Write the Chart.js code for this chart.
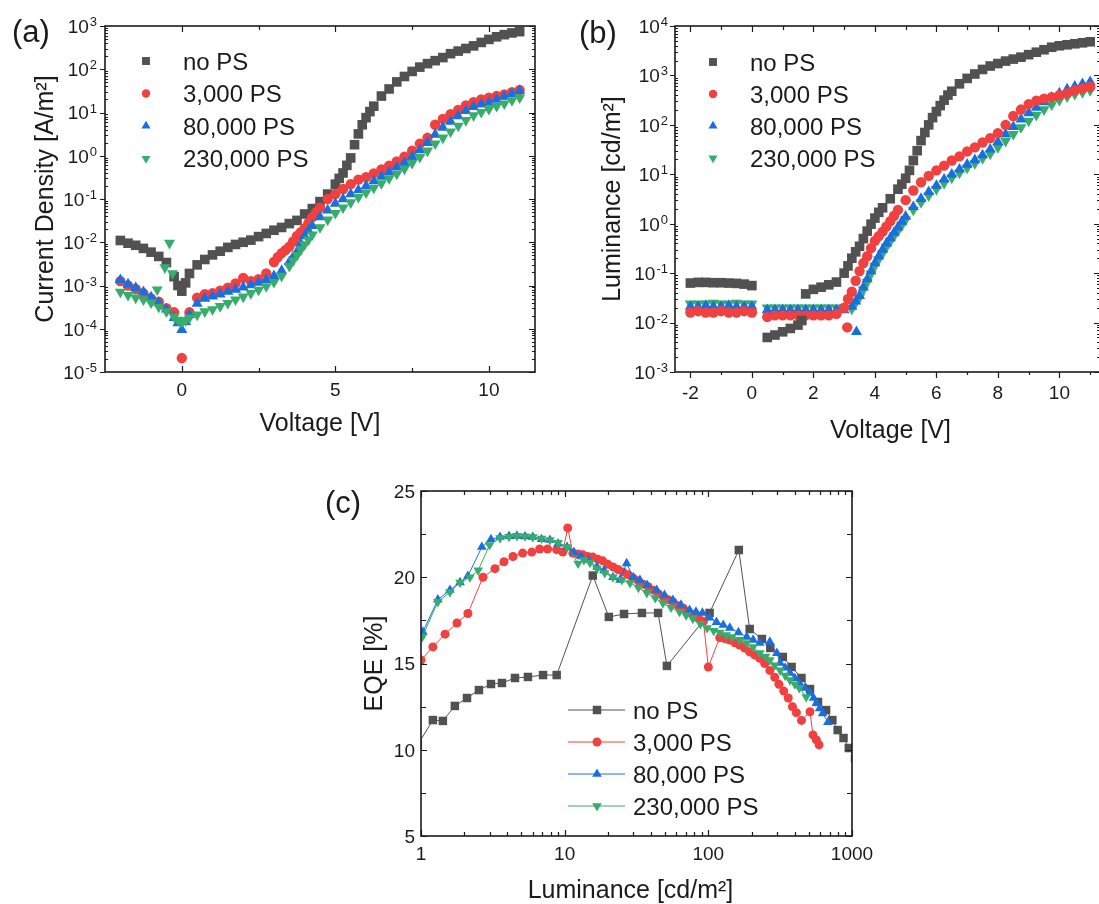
<!DOCTYPE html>
<html>
<head>
<meta charset="utf-8">
<script src="https://cdn.jsdelivr.net/npm/chart.js@4.4.1/dist/chart.umd.min.js"></script>
<style>
  html, body { margin: 0; padding: 0; background: #fff; overflow: hidden; }
  #page { position: relative; width: 1099px; height: 904px; overflow: hidden; background: #fff; }
  canvas { position: absolute; }
  #cA { left: 0; top: 0; }
  #cB { left: 560px; top: 0; }
  #cC { left: 300px; top: 440px; }
</style>
</head>
<body>
<div id="page">
  <canvas id="cB" width="541" height="460"></canvas>
  <canvas id="cA" width="560" height="450"></canvas>
  <canvas id="cC" width="600" height="464"></canvas>
</div>
<script>
// ---- data ----
const names = ['no PS', '3,000 PS', '80,000 PS', '230,000 PS'];

// voltage sweep shared by J-V and L-V
const volts = [-2, -1.75, -1.5, -1.25, -1, -0.75, -0.5, -0.25,
  0, 0.25, 0.5, 0.75, 1, 1.25, 1.5, 1.75, 2, 2.25, 2.5, 2.75,
  3, 3.25, 3.5, 3.75, 4, 4.25, 4.5, 4.75, 5, 5.25, 5.5, 5.75,
  6, 6.25, 6.5, 6.75, 7, 7.25, 7.5, 7.75, 8, 8.25, 8.5, 8.75,
  9, 9.25, 9.5, 9.75, 10, 10.25, 10.5, 10.75, 11];

// current density [A/m2]
const jNoPS = [
  1.1e-2, 9.5e-3, 8.5e-3, 7.2e-3, 5.9e-3, 4.7e-3, 3.4e-3, 1.6e-3,
  7.4e-4, 1.9e-3, 3.0e-3, 4.0e-3, 5.1e-3, 6.2e-3, 7.6e-3, 8.9e-3,
  1.0e-2, 1.12e-2, 1.35e-2, 1.6e-2, 1.9e-2, 2.2e-2, 2.7e-2, 3.2e-2,
  4.5e-2, 6.0e-2, 8.7e-2, 0.13, 0.22, 0.40, 0.89, 3.2,
  7.6, 14, 24, 35, 51, 68, 89, 112,
  135, 158, 186, 229, 263, 302, 347, 417,
  490, 562, 631, 692, 741];
const j3k = [
  1.26e-3, 1.0e-3, 8.3e-4, 6.6e-4, 5.0e-4, 4.2e-4, 3.0e-4, 2.4e-4,
  2.1e-5, 2.4e-4, 5.2e-4, 6.3e-4, 6.6e-4, 7.6e-4, 8.9e-4, 1.12e-3,
  1.5e-3, 1.26e-3, 1.4e-3, 1.9e-3, 3.5e-3, 5.6e-3, 7.9e-3, 1.4e-2,
  2.1e-2, 3.8e-2, 6.3e-2, 0.10, 0.13, 0.17, 0.22, 0.28,
  0.32, 0.39, 0.48, 0.59, 0.74, 0.95, 1.3, 1.9,
  2.6, 5.2, 7.1, 9.1, 11.5, 14.5, 17.4, 20,
  22, 24, 26, 29.5, 33];
const j80k = [
  1.35e-3, 1.07e-3, 8.9e-4, 7.1e-4, 5.4e-4, 4.0e-4, 2.8e-4, 1.8e-4,
  9.5e-5, 2.1e-4, 3.8e-4, 5.0e-4, 5.6e-4, 6.3e-4, 7.2e-4, 8.1e-4,
  9.1e-4, 1.02e-3, 1.17e-3, 1.35e-3, 1.66e-3, 2.2e-3, 3.5e-3, 6.0e-3,
  1.4e-2, 2.4e-2, 3.8e-2, 5.5e-2, 7.8e-2, 0.10, 0.13, 0.16,
  0.20, 0.26, 0.33, 0.42, 0.54, 0.69, 0.95, 1.35,
  2.0, 3.1, 4.5, 6.2, 8.3, 11, 13.5, 15.5,
  17, 20, 23.4, 27, 31.6];
const j230k = [
  7.1e-4, 6.0e-4, 5.2e-4, 4.7e-4, 4.0e-4, 3.2e-4, 2.5e-4, 1.9e-4,
  1.4e-4, 1.8e-4, 2.1e-4, 2.5e-4, 2.8e-4, 3.3e-4, 3.9e-4, 4.7e-4,
  5.5e-4, 6.6e-4, 7.9e-4, 9.5e-4, 1.2e-3, 1.66e-3, 2.8e-3, 5.0e-3,
  8.9e-3, 1.5e-2, 2.2e-2, 3.3e-2, 4.7e-2, 6.3e-2, 8.3e-2, 0.11,
  0.14, 0.18, 0.23, 0.30, 0.38, 0.50, 0.68, 0.93,
  1.3, 1.9, 2.6, 3.6, 4.9, 6.6, 8.5, 10.2,
  12, 14, 16, 19, 22];
// extra readings where the curves turn sharply
const jNoPSFineV = [-0.125, 0.125, 5.125, 5.375, 5.625, 5.875, 6.125];
const jNoPSFineJ = [1.0e-3, 1.15e-3, 0.30, 0.60, 1.8, 5.2, 10.5];
const j3kFineV = [3.125, 3.375, 3.625, 3.875, 4.125, 4.375];
const j3kFineJ = [4.5e-3, 6.6e-3, 1.05e-2, 1.7e-2, 2.8e-2, 4.9e-2];
const j80kFineV = [-0.125, 0.125, 3.625, 3.875, 4.125];
const j80kFineJ = [1.35e-4, 1.45e-4, 4.6e-3, 9.3e-3, 1.85e-2];
const j230kFineV = [-0.8, -0.55, -0.4, -0.3, -0.125, 0.125, 3.625, 3.875, 4.125];
const j230kFineJ = [8.0e-4, 2.6e-3, 9.6e-3, 1.9e-3, 1.6e-4, 1.55e-4, 3.8e-3, 6.7e-3, 1.15e-2];

// luminance [cd/m2]
const lNoPS = [
  0.063, 0.065, 0.065, 0.064, 0.064, 0.063, 0.062, 0.060,
  0.056, null, 5.0e-3, 5.6e-3, 6.5e-3, 7.6e-3, 8.9e-3, 0.038,
  0.047, 0.052, 0.058, 0.066, 0.10, 0.20, 0.35, 0.71,
  1.3, 2.1, 3.2, 5.0, 8.3, 19, 48, 100,
  186, 316, 479, 676, 871, 1070, 1320, 1550,
  1740, 1950, 2140, 2340, 2630, 2950, 3310, 3720,
  3980, 4170, 4370, 4570, 4790];
const l3k = [
  0.016, 0.017, 0.016, 0.016, 0.017, 0.016, 0.016, 0.017,
  0.016, null, 0.013, 0.014, 0.014, 0.014, 0.014, 0.014,
  0.014, 0.014, 0.014, 0.015, 0.020, 0.042, 0.11, 0.22,
  0.45, 0.69, 1.12, 1.9, 3.0, 4.7, 6.9, 9.3,
  12, 15, 19, 23, 29, 35, 44, 54,
  68, 100, 151, 204, 263, 309, 339, 363,
  398, 437, 501, 537, 589];
const l80k = [
  0.021, 0.021, 0.022, 0.021, 0.021, 0.022, 0.021, 0.021,
  0.021, null, 0.018, 0.018, 0.018, 0.018, 0.018, 0.018,
  0.018, 0.018, 0.018, 0.018, 0.018, 0.021, 0.035, 0.076,
  0.16, 0.30, 0.51, 0.85, 1.4, 2.2, 3.2, 4.4,
  5.9, 7.9, 10, 12.6, 15.8, 19.5, 24.5, 32,
  45, 65, 91, 129, 174, 224, 288, 355,
  437, 525, 603, 676, 741];
const l230k = [
  0.024, 0.024, 0.024, 0.025, 0.024, 0.024, 0.025, 0.024,
  0.024, null, 0.020, 0.020, 0.020, 0.020, 0.020, 0.020,
  0.020, 0.020, 0.020, 0.020, 0.020, 0.019, 0.032, 0.066,
  0.14, 0.25, 0.44, 0.72, 1.2, 1.9, 2.7, 3.7,
  5.0, 6.6, 8.5, 10.7, 13.5, 16.6, 21, 26,
  35, 47, 65, 89, 120, 158, 204, 257,
  316, 372, 417, 457, 501];
const lNoPSFineV = [1.625, 3.125, 3.375, 3.625, 3.875, 4.125, 4.875, 5.125, 5.375, 5.625, 5.875, 6.125, 6.375];
const lNoPSFineL = [0.011, 0.14, 0.27, 0.50, 0.98, 1.7, 6.3, 12, 30, 70, 140, 245, 400];
const l3kFineV = [3.1, 3.125, 3.375, 3.625, 3.875, 4.125, 4.375, 4.625];
const l3kFineL = [8.0e-3, 0.030, 0.070, 0.16, 0.32, 0.56, 0.88, 1.45];
const l80kFineV = [3.4, 3.375, 3.625, 3.875, 4.125, 4.375, 4.625, 4.875];
const l80kFineL = [6.5e-3, 0.027, 0.052, 0.11, 0.22, 0.40, 0.66, 1.1];
const l230kFineV = [3.375, 3.625, 3.875, 4.125, 4.375, 4.625, 4.875];
const l230kFineL = [0.025, 0.046, 0.097, 0.19, 0.34, 0.57, 0.93];

// EQE [%] against luminance [cd/m2]
const eqeLumNoPS = [0.95, 1.21, 1.42, 1.72, 2.09, 2.53, 3.07, 3.66, 4.51, 5.55, 7.07, 8.8,
  15.7, 20.3, 25.9, 34.5, 44.7, 51.5, 102, 163, 194, 236, 270, 330, 380,
  445, 510, 580, 660, 730, 795, 873, 950, 1050];
const eqeNoPS = [10.3, 11.72, 11.67, 12.54, 13.0, 13.46, 13.81, 13.87, 14.16, 14.22, 14.33, 14.33,
  20.1, 17.7, 17.87, 17.93, 17.93, 14.86, 17.93, 21.58, 17.0, 16.42, 15.9, 15.38, 14.8,
  14.16, 13.52, 12.77, 12.3, 11.72, 11.14, 10.68, 10.1, 9.5];

const eqeLum3k = [1.0, 1.21, 1.47, 1.78, 2.12, 2.7, 3.27, 3.78, 4.37, 5.1, 5.9, 6.7, 7.6, 8.8, 9.7,
  10.5, 11.4, 12.4, 13.4, 14.5, 15.7, 17.0, 18.4, 20.0, 21.7, 23.5, 25.5, 27.6, 30, 32.5,
  35.2, 38.2, 41.4, 44.8, 48.6, 52.6, 57, 61.8, 67, 72.6, 78.7, 85.3, 92.4, 100,
  120, 130, 141, 153, 165, 179, 194, 210, 228, 247, 268, 290, 310, 335, 360, 385,
  410, 445, 510, 535, 565, 590];
const eqe3k = [15.2, 15.96, 16.7, 17.35, 17.9, 20.0, 20.5, 20.9, 21.2, 21.4, 21.46, 21.64, 21.64, 21.6, 21.46,
  22.86, 21.4, 21.35, 21.3, 21.2, 21.17, 21.05, 20.95, 20.75, 20.6, 20.45, 20.3, 20.15, 19.95, 19.8,
  19.6, 19.45, 19.25, 19.05, 18.86, 18.7, 18.55, 18.35, 18.2, 18.0, 17.8, 17.62, 17.45, 14.8,
  16.5, 16.45, 16.36, 16.2, 16.07, 15.9, 15.67, 15.5, 15.3, 15.0, 14.6, 14.2, 13.8, 13.4, 13.0, 12.5,
  12.15, 11.7, 12.2, 10.86, 10.57, 10.28];

const eqeLum80k = [1.03, 1.31, 1.59, 1.87, 2.12, 2.65, 3.07, 3.55, 4.1, 4.65, 5.3, 6.0, 6.9, 7.9, 9.0,
  10.4, 11.6, 13.0, 14.6, 16.8, 18.8, 21.7, 24.3, 27, 30, 33.4, 37.5, 43.7, 49.5, 56.7,
  64.5, 74, 82, 91, 102, 114, 127, 141, 162, 185, 205, 228, 268, 300, 316, 343,
  370, 400, 430, 470, 510, 540, 565, 595, 625, 680];
const eqe80k = [16.83, 18.7, 19.26, 19.7, 20.07, 21.75, 22.2, 22.33, 22.38, 22.4, 22.36, 22.33, 22.2, 22.16, 21.95,
  21.75, 21.45, 21.2, 21.0, 20.6, 20.4, 20.0, 19.85, 20.8, 20.0, 19.84, 19.55, 19.26, 18.97, 18.68,
  18.4, 18.1, 18.0, 17.93, 17.65, 17.4, 17.23, 17.06, 16.8, 16.54, 16.37, 16.19, 16.25, 15.6, 15.03, 14.75,
  14.45, 14.15, 13.87, 13.58, 13.3, 13.0, 12.7, 12.4, 12.1, 11.6];

const eqeLum230k = [1.02, 1.31, 1.59, 1.87, 2.19, 2.5, 3.0, 3.55, 4.1, 4.65, 5.3, 6.0, 6.9, 7.9, 9.0,
  10.4, 12.4, 13.6, 15.0, 16.8, 19, 21.7, 25, 28.5, 32.6, 37.3, 42.7, 48.3, 55, 63,
  70, 78, 88, 98, 109, 120, 133, 146, 165, 185, 205, 228, 250, 268, 290, 316,
  343, 370, 400, 430, 480];
const eqe230k = [16.54, 18.57, 19.14, 19.7, 20.0, 20.4, 21.87, 22.27, 22.35, 22.4, 22.38, 22.33, 22.25, 22.16, 22.0,
  21.75, 20.8, 21.0, 20.85, 20.5, 20.25, 20.0, 19.85, 19.67, 19.4, 19.1, 18.8, 18.5, 18.25, 18.0,
  17.8, 17.6, 17.3, 17.06, 16.9, 16.8, 16.65, 16.54, 16.37, 16.19, 15.95, 15.6, 15.4, 15.2, 14.9, 14.6,
  14.3, 14.04, 13.8, 13.58, 13.06];

// ---- styling ----
const FONT = '"Liberation Sans", Arial, Helvetica, sans-serif';
const INK = '#1b1b1b';
const colors = ['#515151', '#F14040', '#1A6FDF', '#37AD6B'];
const shapes = [['rect', 0], ['circle', 0], ['triangle', 0], ['triangle', 180]];

Chart.defaults.font.family = FONT;

function pairs(xs, ys) {
  const out = [];
  xs.forEach((x, i) => { if (ys[i] != null) out.push({ x: x, y: ys[i] }); });
  return out;
}

function series(i, data, radius, extra) {
  return Object.assign({
    label: names[i],
    data: data,
    backgroundColor: colors[i],
    borderColor: colors[i],
    pointStyle: shapes[i][0],
    pointRotation: shapes[i][1],
    pointRadius: radius[i],
    pointHoverRadius: radius[i],
    pointBorderWidth: 0
  }, extra || {});
}

function logTicks(lo, hi) {
  const major = [], minor = [];
  for (let e = lo; e <= hi; e++) {
    major.push(Math.pow(10, e));
    if (e < hi) for (let k = 2; k <= 9; k++) minor.push(k * Math.pow(10, e));
  }
  return { major, minor };
}
const powLabel = v => ['10', String(Math.round(Math.log10(v)))];

function tickLabel(ctx, lab, x, base, align, size) {
  if (Array.isArray(lab)) {
    const es = Math.round(size * 0.68);
    ctx.font = size + 'px ' + FONT;
    const bw = ctx.measureText(lab[0]).width;
    ctx.font = es + 'px ' + FONT;
    const ew = ctx.measureText(lab[1]).width + 1;
    const x0 = align === 'right' ? x - bw - ew : x - (bw + ew) / 2;
    ctx.textAlign = 'left';
    ctx.font = size + 'px ' + FONT;
    ctx.fillText(lab[0], x0, base);
    ctx.font = es + 'px ' + FONT;
    ctx.fillText(lab[1], x0 + bw + 1, base - size * 0.36);
  } else {
    ctx.font = size + 'px ' + FONT;
    ctx.textAlign = align;
    ctx.fillText(lab, x, base);
  }
}

// axes box, Origin-style ticks, labels, titles and in-plot legend
const framePlugin = {
  id: 'frame',
  afterDraw(chart, args, o) {
    const ctx = chart.ctx, a = chart.chartArea;
    const sx = chart.scales.x, sy = chart.scales.y;
    ctx.save();
    ctx.strokeStyle = INK;
    ctx.fillStyle = INK;
    ctx.textBaseline = 'alphabetic';

    const inRange = (s, v) => v >= s.min - 1e-9 && v <= s.max + 1e-9;
    const marks = (side, s, values, len) => {
      const out = len[0], inn = len[1];
      if (!out && !inn) return;
      ctx.beginPath();
      values.forEach(v => {
        if (!inRange(s, v)) return;
        const p = Math.round(s.getPixelForValue(v)) + 0.5;
        if (side === 'left') { ctx.moveTo(a.left - out, p); ctx.lineTo(a.left + inn, p); }
        if (side === 'right') { ctx.moveTo(a.right + out, p); ctx.lineTo(a.right - inn, p); }
        if (side === 'bottom') { ctx.moveTo(p, a.bottom + out); ctx.lineTo(p, a.bottom - inn); }
        if (side === 'top') { ctx.moveTo(p, a.top - out); ctx.lineTo(p, a.top + inn); }
      });
      ctx.stroke();
    };
    ctx.lineWidth = 1.2;
    ['left', 'right', 'bottom', 'top'].forEach(side => {
      const s = (side === 'left' || side === 'right') ? sy : sx;
      const ax = (s === sx) ? o.x : o.y;
      const t = o.ticks[side];
      marks(side, s, ax.major, t.major);
      marks(side, s, ax.minor, t.minor);
    });

    ctx.lineWidth = 1.6;
    ctx.strokeRect(a.left, a.top, a.right - a.left, a.bottom - a.top);

    // tick labels
    o.y.major.forEach(v => {
      if (!inRange(sy, v)) return;
      const p = sy.getPixelForValue(v);
      tickLabel(ctx, o.y.fmt(v), a.left - o.y.gap, p + o.tickSize * 0.36, 'right', o.tickSize);
    });
    o.x.major.forEach(v => {
      if (!inRange(sx, v)) return;
      const p = sx.getPixelForValue(v);
      tickLabel(ctx, o.x.fmt(v), p, a.bottom + o.x.gap, 'center', o.tickSize);
    });

    // axis titles
    ctx.font = o.titleSize + 'px ' + FONT;
    ctx.textAlign = 'center';
    ctx.fillText(o.x.title, (a.left + a.right) / 2 + (o.x.dx || 0), a.bottom + o.x.titleY);
    ctx.save();
    ctx.translate(a.left + o.y.titleX, (a.top + a.bottom) / 2);
    ctx.rotate(-Math.PI / 2);
    ctx.fillText(o.y.title, 0, 0);
    ctx.restore();

    // panel letter
    ctx.font = o.letter.size + 'px ' + FONT;
    ctx.textAlign = 'left';
    ctx.fillText(o.letter.text, o.letter.x, o.letter.y);

    // legend, drawn from the datasets themselves
    const L = o.legend;
    chart.data.datasets.forEach((ds, i) => {
      const y = L.y + i * L.dy;
      if (L.line) {
        ctx.strokeStyle = ds.borderColor;
        ctx.lineWidth = 1;
        ctx.beginPath();
        ctx.moveTo(L.line[0], y);
        ctx.lineTo(L.line[1], y);
        ctx.stroke();
      }
      ctx.fillStyle = ds.backgroundColor;
      Chart.helpers.drawPoint(ctx, {
        pointStyle: ds.pointStyle, rotation: ds.pointRotation || 0,
        radius: L.r ? L.r[i] : ds.pointRadius, borderWidth: 0
      }, L.mx, y);
      ctx.fillStyle = INK;
      ctx.font = L.size + 'px ' + FONT;
      ctx.textAlign = 'left';
      ctx.fillText(ds.label, L.tx, y + L.size * 0.36);
    });
    ctx.restore();
  }
};

function hidden(extra) {
  return Object.assign({
    grid: { display: false },
    border: { display: false },
    ticks: { display: false }
  }, extra);
}

function baseOptions(pad, yWidth, xHeight, xScale, yScale, frame) {
  return {
    responsive: false,
    animation: false,
    devicePixelRatio: 1,
    events: [],
    layout: { padding: pad, autoPadding: false },
    plugins: { legend: { display: false }, tooltip: { enabled: false }, frame: frame },
    scales: {
      x: hidden(Object.assign({ afterFit: s => { s.height = xHeight; } }, xScale)),
      y: hidden(Object.assign({ afterFit: s => { s.width = yWidth; } }, yScale))
    }
  };
}

const rDense = [6.8, 5.2, 6.4, 6.4];
const rKey = [5.6, 4.2, 5.2, 5.2];
const rLarge = [6.0, 4.5, 5.6, 5.6];

// (a) current density - voltage
const jLog = logTicks(-5, 3);
new Chart(document.getElementById('cA'), {
  type: 'scatter',
  data: {
    datasets: [
      series(0, pairs(volts, jNoPS).concat(pairs(jNoPSFineV, jNoPSFineJ)), rDense, { order: 4 }),
      series(1, pairs(volts, j3k).concat(pairs(j3kFineV, j3kFineJ)), rDense, { order: 3 }),
      series(2, pairs(volts, j80k).concat(pairs(j80kFineV, j80kFineJ)), rDense, { order: 2 }),
      series(3, pairs(volts, j230k).concat(pairs(j230kFineV, j230kFineJ)), rDense, { order: 1 })
    ]
  },
  options: baseOptions({ top: 26, right: 25, bottom: 0, left: 0 }, 105, 78,
    { type: 'linear', min: -2.5, max: 11.5 },
    { type: 'logarithmic', min: 1e-5, max: 1e3 },
    {
      tickSize: 19, titleSize: 25,
      x: { major: [0, 5, 10], minor: [2.5, 7.5], fmt: v => String(v), gap: 24,
           title: 'Voltage [V]', titleY: 59 },
      y: { major: jLog.major, minor: jLog.minor, fmt: powLabel, gap: 8,
           title: 'Current Density [A/m\u00b2]', titleX: -52 },
      ticks: {
        left: { major: [5, 0], minor: [0, 3] },
        right: { major: [0, 6], minor: [0, 3] },
        bottom: { major: [0, 6], minor: [0, 4] },
        top: { major: [0, 6], minor: [0, 4] }
      },
      letter: { text: '(a)', x: 12, y: 42, size: 31 },
      legend: { mx: 146, tx: 183, y: 61, dy: 32.5, size: 24, r: rKey }
    }),
  plugins: [framePlugin]
});

// (b) luminance - voltage
const lLog = logTicks(-3, 4);
new Chart(document.getElementById('cB'), {
  type: 'scatter',
  data: {
    datasets: [
      series(0, pairs(volts, lNoPS).concat(pairs(lNoPSFineV, lNoPSFineL)), rDense),
      series(1, pairs(volts, l3k).concat(pairs(l3kFineV, l3kFineL)), rDense),
      series(2, pairs(volts, l80k).concat(pairs(l80kFineV, l80kFineL)), rDense),
      series(3, pairs(volts, l230k).concat(pairs(l230kFineV, l230kFineL)), rDense)
    ]
  },
  options: baseOptions({ top: 26, right: 1, bottom: 0, left: 0 }, 115, 88,
    { type: 'linear', min: -2.5, max: 11.32 },
    { type: 'logarithmic', min: 1e-3, max: 1e4 },
    {
      tickSize: 19, titleSize: 25,
      x: { major: [-2, 0, 2, 4, 6, 8, 10], minor: [-1, 1, 3, 5, 7, 9, 11], fmt: v => String(v), gap: 27,
           title: 'Voltage [V]', titleY: 66, dx: 3 },
      y: { major: lLog.major, minor: lLog.minor, fmt: powLabel, gap: 7,
           title: 'Luminance [cd/m\u00b2]', titleX: -55 },
      ticks: {
        left: { major: [5, 0], minor: [0, 3] },
        right: { major: [0, 6], minor: [0, 3] },
        bottom: { major: [6, 0], minor: [3, 0] },
        top: { major: [0, 6], minor: [0, 4] }
      },
      letter: { text: '(b)', x: 19, y: 43, size: 31 },
      legend: { mx: 153, tx: 190, y: 62, dy: 32, size: 24, r: rKey }
    }),
  plugins: [framePlugin]
});

// (c) EQE - luminance
const cLog = logTicks(0, 3);
const lineStyle = i => ({ showLine: true, borderWidth: 1, order: 4 - i });
new Chart(document.getElementById('cC'), {
  type: 'scatter',
  data: {
    datasets: [
      series(0, pairs(eqeLumNoPS, eqeNoPS), rLarge, lineStyle(0)),
      series(1, pairs(eqeLum3k, eqe3k), rLarge, lineStyle(1)),
      series(2, pairs(eqeLum80k, eqe80k), rLarge, lineStyle(2)),
      series(3, pairs(eqeLum230k, eqe230k), rLarge, lineStyle(3))
    ]
  },
  options: baseOptions({ top: 51, right: 48, bottom: 0, left: 0 }, 121, 68,
    { type: 'logarithmic', min: 1, max: 1000 },
    { type: 'linear', min: 5, max: 25 },
    {
      tickSize: 19, titleSize: 25,
      x: { major: cLog.major, minor: cLog.minor, fmt: v => String(v), gap: 24,
           title: 'Luminance [cd/m\u00b2]', titleY: 62, dx: -6 },
      y: { major: [5, 10, 15, 20, 25], minor: [7.5, 12.5, 17.5, 22.5], fmt: v => String(v), gap: 6,
           title: 'EQE [%]', titleX: -39 },
      ticks: {
        left: { major: [0, 6], minor: [0, 5] },
        right: { major: [0, 6], minor: [0, 5] },
        bottom: { major: [0, 6], minor: [0, 4] },
        top: { major: [0, 6], minor: [0, 4] }
      },
      letter: { text: '(c)', x: 25, y: 73, size: 31 },
      legend: { mx: 297, tx: 333, y: 270, dy: 32, size: 24, line: [268, 325] }
    }),
  plugins: [framePlugin]
});
</script>
</body>
</html>
